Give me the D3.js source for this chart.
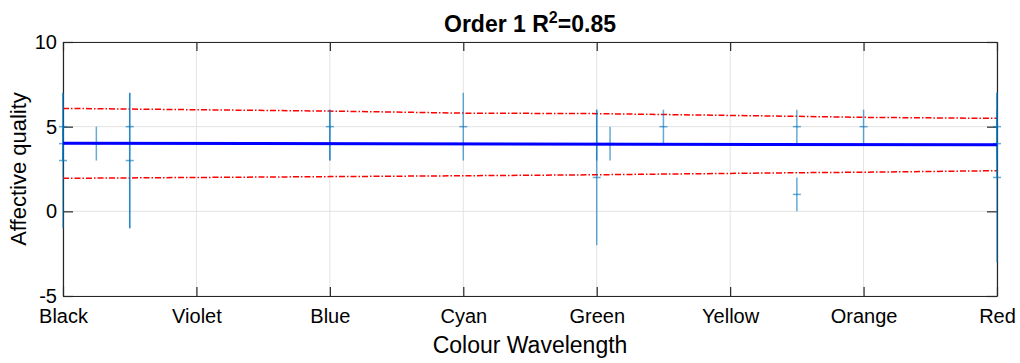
<!DOCTYPE html>
<html>
<head>
<meta charset="utf-8">
<script src="https://cdn.jsdelivr.net/npm/d3@7"></script>
<style>
  html, body { margin: 0; padding: 0; background: #fff; }
  svg { display: block; font-family: "Liberation Sans", Arial, sans-serif; }
</style>
</head>
<body>
<svg id="chart" width="1020" height="363"></svg>
<script>
// Colour categories along the wavelength axis
const categories = ["Black", "Violet", "Blue", "Cyan", "Green", "Yellow", "Orange", "Red"];
const yTicks = [-5, 0, 5, 10];

// Individual ratings: position on the wavelength axis, mean, lower and upper extent
const obsX    = [0, 0, 0, 0.25, 0.5, 0.5, 2, 2, 3, 4, 4, 4.1, 4.5, 5.5, 5.5, 6, 7, 7, 7];
const obsMean = [3, 5, 4, 4,    5,   3,   5, 4, 5, 4, 2, 4,   5,   5,   1,   5, 5, 4, 2];
const obsLow  = [-1, 3, 3, 3,  -1,  -1,   3, 3, 3, 3, -2, 3,  4,   4,   0,   4, 3, -3, 2];
const obsHigh = [7, 7, 5, 5,    7,   7,   6, 6, 7, 6, 6, 5,   6,   6,   2,   6, 7, 7, 6];

// First-order fit and its confidence band
const fitX = [0, 7];
const fitY = [4.02, 3.93];
const bandX     = [0, 2, 3, 4, 5.5, 6, 7];
const bandUpper = [6.08, 5.92, 5.80, 5.77, 5.61, 5.55, 5.49];
const bandLower = [1.95, 2.05, 2.10, 2.16, 2.28, 2.31, 2.40];

const svg = d3.select("#chart");
const plotL = 63, plotR = 997, plotT = 42, plotB = 296;

const x = d3.scaleLinear().domain([0, categories.length - 1]).range([plotL, plotR]);
const y = d3.scaleLinear().domain([-5, 10]).range([plotB, plotT]);

const axisColor = "#262626";
const gridColor = "#e3e3e3";
const font = "'Liberation Sans', Arial, sans-serif";

// Grid
const grid = svg.append("g");
grid.selectAll("line.gx").data(d3.range(categories.length)).enter().append("line")
  .attr("x1", d => x(d)).attr("x2", d => x(d))
  .attr("y1", plotT).attr("y2", plotB)
  .attr("stroke", gridColor).attr("stroke-width", 1);
grid.selectAll("line.gy").data(yTicks).enter().append("line")
  .attr("x1", plotL).attr("x2", plotR)
  .attr("y1", d => y(d)).attr("y2", d => y(d))
  .attr("stroke", gridColor).attr("stroke-width", 1);

// Axes (box with inward ticks)
const xAxis = d3.axisBottom(x)
  .tickValues(d3.range(categories.length))
  .tickFormat(i => categories[i])
  .tickSizeInner(-9).tickSizeOuter(0).tickPadding(13);
const gx = svg.append("g").attr("transform", `translate(0,${plotB})`).call(xAxis);

const yAxis = d3.axisLeft(y).tickValues(yTicks).tickFormat(d => String(d))
  .tickSizeInner(-10).tickSizeOuter(0).tickPadding(6);
const gy = svg.append("g").attr("transform", `translate(${plotL},0)`).call(yAxis);

const yAxisR = d3.axisRight(y).tickValues(yTicks).tickSizeInner(-10).tickSizeOuter(0).tickFormat("");
const gyr = svg.append("g").attr("transform", `translate(${plotR},0)`).call(yAxisR);

const xAxisT = d3.axisTop(x).tickValues(d3.range(categories.length)).tickSizeInner(-9).tickSizeOuter(0).tickFormat("");
const gxt = svg.append("g").attr("transform", `translate(0,${plotT})`).call(xAxisT);

[gx, gy, gyr, gxt].forEach(g => {
  g.selectAll(".domain").attr("stroke", axisColor).attr("stroke-width", 1.2);
  g.selectAll(".tick line").attr("stroke", axisColor).attr("stroke-width", 1.2);
  g.selectAll("text").attr("fill", "#000").style("font-size", "20px").style("font-family", font);
});

// Confidence band
const bandLine = d3.line().x(d => x(d[0])).y(d => y(d[1]));
[bandUpper, bandLower].forEach(vals => {
  svg.append("path")
    .datum(bandX.map((bx, i) => [bx, vals[i]]))
    .attr("d", bandLine)
    .attr("fill", "none")
    .attr("stroke", "#ff0000")
    .attr("stroke-width", 1.5)
    .attr("stroke-dasharray", "6,2,1.5,2");
});

// Error bars
const bars = svg.append("g");
const idx = d3.range(obsX.length);
bars.selectAll("line.bar").data(idx).enter().append("line")
  .attr("x1", i => x(obsX[i])).attr("x2", i => x(obsX[i]))
  .attr("y1", i => y(obsLow[i])).attr("y2", i => y(obsHigh[i]))
  .attr("stroke", "#0072BD").attr("stroke-opacity", 0.6).attr("stroke-width", 1.5);
bars.selectAll("line.mark").data(idx).enter().append("line")
  .attr("x1", i => x(obsX[i]) - 4).attr("x2", i => x(obsX[i]) + 4)
  .attr("y1", i => y(obsMean[i])).attr("y2", i => y(obsMean[i]))
  .attr("stroke", "#0072BD").attr("stroke-opacity", 0.6).attr("stroke-width", 1.5);

// Fitted line
svg.append("path")
  .datum(fitX.map((fx, i) => [fx, fitY[i]]))
  .attr("d", d3.line().x(d => x(d[0])).y(d => y(d[1])))
  .attr("fill", "none").attr("stroke", "#0000ff").attr("stroke-width", 3);

// Axis titles
svg.append("text")
  .attr("x", (plotL + plotR) / 2).attr("y", 353)
  .attr("text-anchor", "middle")
  .style("font-size", "23px")
  .text("Colour Wavelength");

svg.append("text")
  .attr("transform", `translate(26,${(plotT + plotB) / 2}) rotate(-90)`)
  .attr("text-anchor", "middle")
  .style("font-size", "22px")
  .text("Affective quality");

// Title with superscript
const title = svg.append("text")
  .attr("x", (plotL + plotR) / 2).attr("y", 32)
  .attr("text-anchor", "middle")
  .style("font-size", "23px").style("font-weight", "bold");
title.append("tspan").text("Order 1 R");
title.append("tspan").attr("dy", -9).style("font-size", "16px").text("2");
title.append("tspan").attr("dy", 9).text("=0.85");
</script>
</body>
</html>
